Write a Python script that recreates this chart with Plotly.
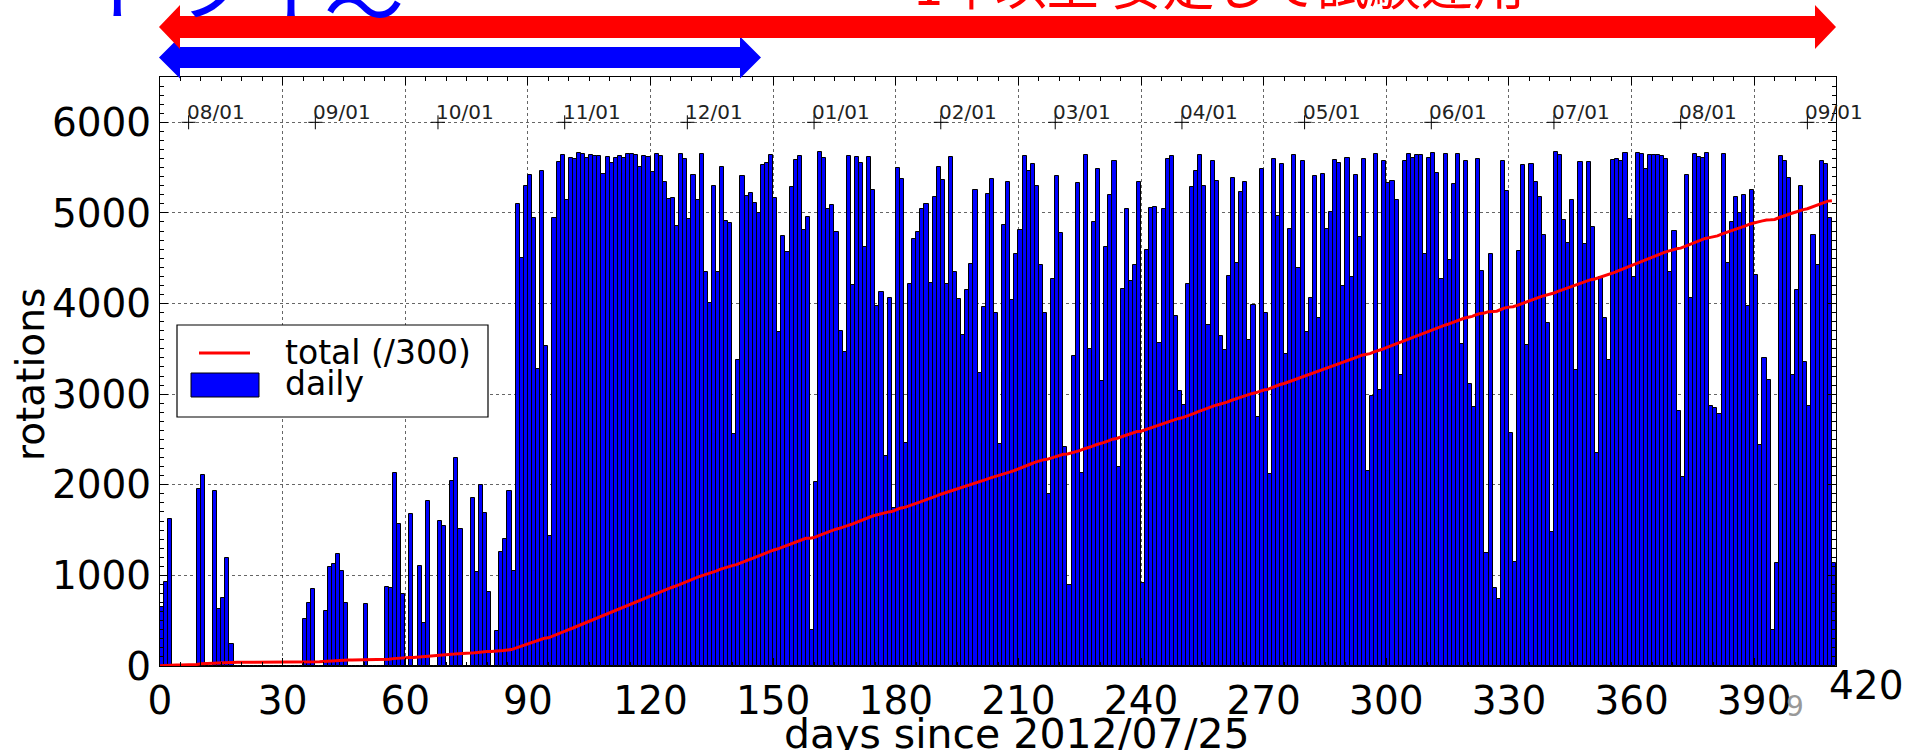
import numpy as np
import plotly.graph_objects as go

# Daily rotation counts, one entry per day since 2012/07/25 (days 0-409)
daily_rotations = [
    # days 0-29
    655, 925, 1624, 0, 0, 0, 0, 0, 0, 1950,
    2108, 0, 0, 1934, 633, 755, 1187, 240, 0, 0,
    0, 0, 0, 0, 0, 0, 0, 0, 0, 0,
    # days 30-59
    0, 0, 0, 0, 0, 524, 698, 851, 0, 0,
    611, 1091, 1122, 1231, 1048, 698, 0, 0, 0, 0,
    685, 0, 0, 0, 0, 873, 860, 2129, 1571, 798,
    # days 60-89
    0, 1680, 0, 1100, 480, 1819, 0, 0, 1601, 1540,
    0, 2038, 2291, 1514, 0, 0, 1854, 1038, 2003, 1688,
    820, 0, 384, 1257, 1405, 1933, 1047, 5096, 4503, 5297,
    # days 90-119
    5419, 4948, 3281, 5462, 3534, 1440, 4948, 5567, 5637, 5140,
    5602, 5593, 5663, 5650, 5611, 5641, 5624, 5628, 5428, 5619,
    5550, 5606, 5628, 5606, 5654, 5654, 5637, 5506, 5628, 5615,
    # days 120-149
    5454, 5654, 5628, 5345, 5157, 5166, 4856, 5654, 5598, 4935,
    5423, 5140, 5654, 4346, 4001, 5301, 4346, 5502, 4913, 4891,
    2565, 3373, 5410, 5192, 5223, 5113, 4996, 5532, 5550, 5641,
    # days 150-179
    5166, 3691, 4747, 4572, 5288, 5585, 5628, 4817, 4956, 393,
    2029, 5667, 5611, 5048, 5083, 4786, 3700, 3469, 5628, 4202,
    5615, 5550, 4625, 5615, 5249, 3975, 4132, 2321, 4066, 1745,
    # days 180-209
    5493, 5375, 2465, 4215, 4712, 4786, 5039, 5096, 4228, 5179,
    5506, 5358, 4215, 5615, 4350, 4053, 3652, 4154, 4433, 5249,
    3237, 3957, 5205, 5371, 3901, 2452, 4869, 5345, 4040, 4551,
    # days 210-239
    4812, 5628, 5462, 5545, 5301, 4420, 3892, 1894, 4276, 5410,
    4773, 2413, 894, 3416, 5327, 2125, 5641, 3495, 4900, 5480,
    3146, 4625, 5201, 5572, 2195, 4158, 5044, 4254, 4420, 5345,
    # days 240-269
    916, 4594, 5057, 5066, 3565, 5044, 5598, 5624, 3861, 3037,
    2880, 4215, 5288, 5462, 5637, 5300, 3765, 5572, 5353, 3643,
    3482, 4306, 5380, 4442, 5236, 5340, 3599, 3988, 2749, 5480,
    # days 270-299
    3901, 2116, 5598, 4961, 5541, 3438, 4821, 5637, 4394, 5572,
    3687, 4066, 5410, 3835, 5432, 4821, 5013, 5580, 5550, 4197,
    5611, 4297, 5423, 4729, 5598, 2151, 2984, 5650, 3050, 5572,
    # days 300-329
    5327, 5353, 5148, 3216, 5572, 5650, 5602, 5637, 5637, 4551,
    5602, 5663, 5436, 4276, 5650, 4485, 5323, 5650, 3552, 5572,
    3115, 2858, 5598, 4363, 1243, 4551, 860, 742, 5572, 5244,
    # days 330-359
    2574, 1147, 4577, 5532, 3543, 5541, 5340, 5179, 4756, 3783,
    1475, 5667, 5641, 4921, 4664, 5140, 3272, 5558, 4660, 5558,
    4843, 2347, 4298, 3835, 3373, 5585, 5598, 5576, 5663, 4930,
    # days 360-389
    4298, 5663, 5646, 5480, 5637, 5637, 5637, 5628, 5598, 4350,
    4799, 2810, 2086, 5419, 4066, 5650, 5615, 5602, 5663, 2866,
    2845, 2779, 5650, 4442, 4895, 5179, 5000, 5201, 3970, 5257,
    # days 390-409
    4320, 2443, 3399, 3154, 393, 1134, 5624, 5572, 5384, 3207,
    4154, 5297, 3360, 2866, 4756, 4428, 5572, 5545, 4943, 1134,
]

# First day of each month, counted in days since 2012/07/25
month_labels = ["08/01", "09/01", "10/01", "11/01", "12/01", "01/01", "02/01",
                "03/01", "04/01", "05/01", "06/01", "07/01", "08/01", "09/01"]
month_days = [7, 38, 68, 99, 129, 160, 191, 219, 250, 280, 311, 341, 372, 403]
month_label_level = 6000

x_ticks = [0, 30, 60, 90, 120, 150, 180, 210, 240, 270, 300, 330, 360, 390]
x_extra_tick = 420
y_ticks = [0, 1000, 2000, 3000, 4000, 5000, 6000]
total_scale = 300

days = np.arange(len(daily_rotations))
total_scaled = np.cumsum(daily_rotations) / total_scale

# Figure geometry (pixels)
W, H = 1915, 750
L, R, T, B = 160, 79, 77, 84
PW, PH = W - L - R, H - T - B
X_MAX, Y_MAX = 410, 6500


def px(x):
    return (x - L) / PW


def py(y):
    return (H - B - y) / PH


fig = go.Figure()

fig.add_trace(go.Bar(
    x=days, y=daily_rotations, width=1, offset=0, name="daily",
    marker=dict(color="#0000ff", line=dict(color="black", width=1)),
    showlegend=False,
))
fig.add_trace(go.Scatter(
    x=days, y=total_scaled, mode="lines", name="total (/300)",
    line=dict(color="red", width=3), showlegend=False,
))
fig.add_trace(go.Scatter(
    x=month_days, y=[month_label_level] * len(month_days), mode="markers",
    marker=dict(symbol="cross-thin", size=10, line=dict(color="black", width=1)),
    showlegend=False, cliponaxis=False, hoverinfo="skip",
))

annotations = []
for d, lab in zip(month_days, month_labels):
    annotations.append(dict(
        x=d, y=month_label_level, xref="x", yref="y", text=lab, showarrow=False,
        xanchor="left", yanchor="bottom", xshift=-4, yshift=-4,
        font=dict(family="DejaVu Sans", size=20, color="#222"),
    ))

# tick label just past the right edge of the axis
annotations.append(dict(
    x=px(1866), y=py(685), xref="paper", yref="paper", text=str(x_extra_tick),
    showarrow=False, xanchor="center", yanchor="middle",
    font=dict(family="DejaVu Sans", size=39, color="black"),
))

# axis titles
annotations.append(dict(
    x=px(1017), y=py(734), xref="paper", yref="paper", text="days since 2012/07/25",
    showarrow=False, xanchor="center", yanchor="middle",
    font=dict(family="DejaVu Sans", size=41, color="black"),
))
annotations.append(dict(
    x=px(30), y=py(375), xref="paper", yref="paper", text="rotations", textangle=-90,
    showarrow=False, xanchor="center", yanchor="middle",
    font=dict(family="DejaVu Sans", size=39, color="black"),
))

# legend text
annotations.append(dict(
    x=px(283), y=py(352), xref="paper", yref="paper", text="total (/300)",
    showarrow=False, xanchor="left", yanchor="middle",
    font=dict(family="DejaVu Sans", size=33, color="black"),
))
annotations.append(dict(
    x=px(283), y=py(384), xref="paper", yref="paper", text="daily",
    showarrow=False, xanchor="left", yanchor="middle",
    font=dict(family="DejaVu Sans", size=33, color="black"),
))

# slide captions above the chart
annotations.append(dict(
    x=px(85), y=py(38), xref="paper", yref="paper", text="トライ",
    showarrow=False, xanchor="left", yanchor="bottom",
    font=dict(family="Noto Sans CJK JP", size=80, color="#0000ff"),
))
annotations.append(dict(
    x=px(322), y=py(62), xref="paper", yref="paper", text="〜",
    showarrow=False, xanchor="left", yanchor="bottom",
    font=dict(family="Noto Sans CJK JP", size=80, color="#0000ff"),
))
annotations.append(dict(
    x=px(912), y=py(22), xref="paper", yref="paper", text="1年以上 安定して試験運用",
    showarrow=False, xanchor="left", yanchor="bottom",
    font=dict(family="Noto Sans CJK JP", size=52, color="#ff0000"),
))

# page number
annotations.append(dict(
    x=px(1795), y=py(706), xref="paper", yref="paper", text="9",
    showarrow=False, xanchor="center", yanchor="middle",
    font=dict(family="DejaVu Sans", size=28, color="#999999"),
))


def arrow_path(x0, x1, yc, band, head, head_len):
    pts = [
        (x0, yc), (x0 + head_len, yc - head), (x0 + head_len, yc - band),
        (x1 - head_len, yc - band), (x1 - head_len, yc - head), (x1, yc),
        (x1 - head_len, yc + head), (x1 - head_len, yc + band),
        (x0 + head_len, yc + band), (x0 + head_len, yc + head),
    ]
    return "M " + " L ".join(f"{px(a):.5f},{py(b):.5f}" for a, b in pts) + " Z"


shapes = [
    # double-headed period arrows
    dict(type="path", xref="paper", yref="paper", layer="above",
         path=arrow_path(159, 761, 57.5, 10.5, 21, 21),
         fillcolor="#0000ff", line=dict(width=0)),
    dict(type="path", xref="paper", yref="paper", layer="above",
         path=arrow_path(159, 1836, 27, 11, 22, 21),
         fillcolor="#ff0000", line=dict(width=0)),
    # legend frame and keys
    dict(type="rect", xref="paper", yref="paper", layer="above",
         x0=px(177), x1=px(488), y0=py(417), y1=py(325),
         fillcolor="white", line=dict(color="black", width=1.2)),
    dict(type="line", xref="paper", yref="paper", layer="above",
         x0=px(199), x1=px(250), y0=py(353), y1=py(353),
         line=dict(color="red", width=3)),
    dict(type="rect", xref="paper", yref="paper", layer="above",
         x0=px(191), x1=px(259), y0=py(397), y1=py(373),
         fillcolor="#0000ff", line=dict(color="black", width=1)),
]

axis_common = dict(
    showline=True, linecolor="black", linewidth=1, mirror="allticks",
    ticks="inside", ticklen=8, tickwidth=1, tickcolor="black",
    showgrid=True, gridcolor="rgba(0,0,0,0.6)", griddash="dot", gridwidth=1,
    zeroline=False, tickfont=dict(family="DejaVu Sans", size=39, color="black"),
)

fig.update_layout(
    width=W, height=H, margin=dict(l=L, r=R, t=T, b=B, autoexpand=False),
    paper_bgcolor="white", plot_bgcolor="white",
    bargap=0, showlegend=False,
    xaxis=dict(range=[0, X_MAX], tickmode="array", tickvals=x_ticks,
               minor=dict(tickmode="linear", tick0=0, dtick=5, ticks="inside",
                          ticklen=4, tickcolor="black", showgrid=False),
               **axis_common),
    yaxis=dict(range=[0, Y_MAX], tickmode="array", tickvals=y_ticks,
               minor=dict(tickmode="linear", tick0=0, dtick=100, ticks="inside",
                          ticklen=4, tickcolor="black", showgrid=False),
               **axis_common),
    annotations=annotations, shapes=shapes,
)

fig.write_html("out.html")
